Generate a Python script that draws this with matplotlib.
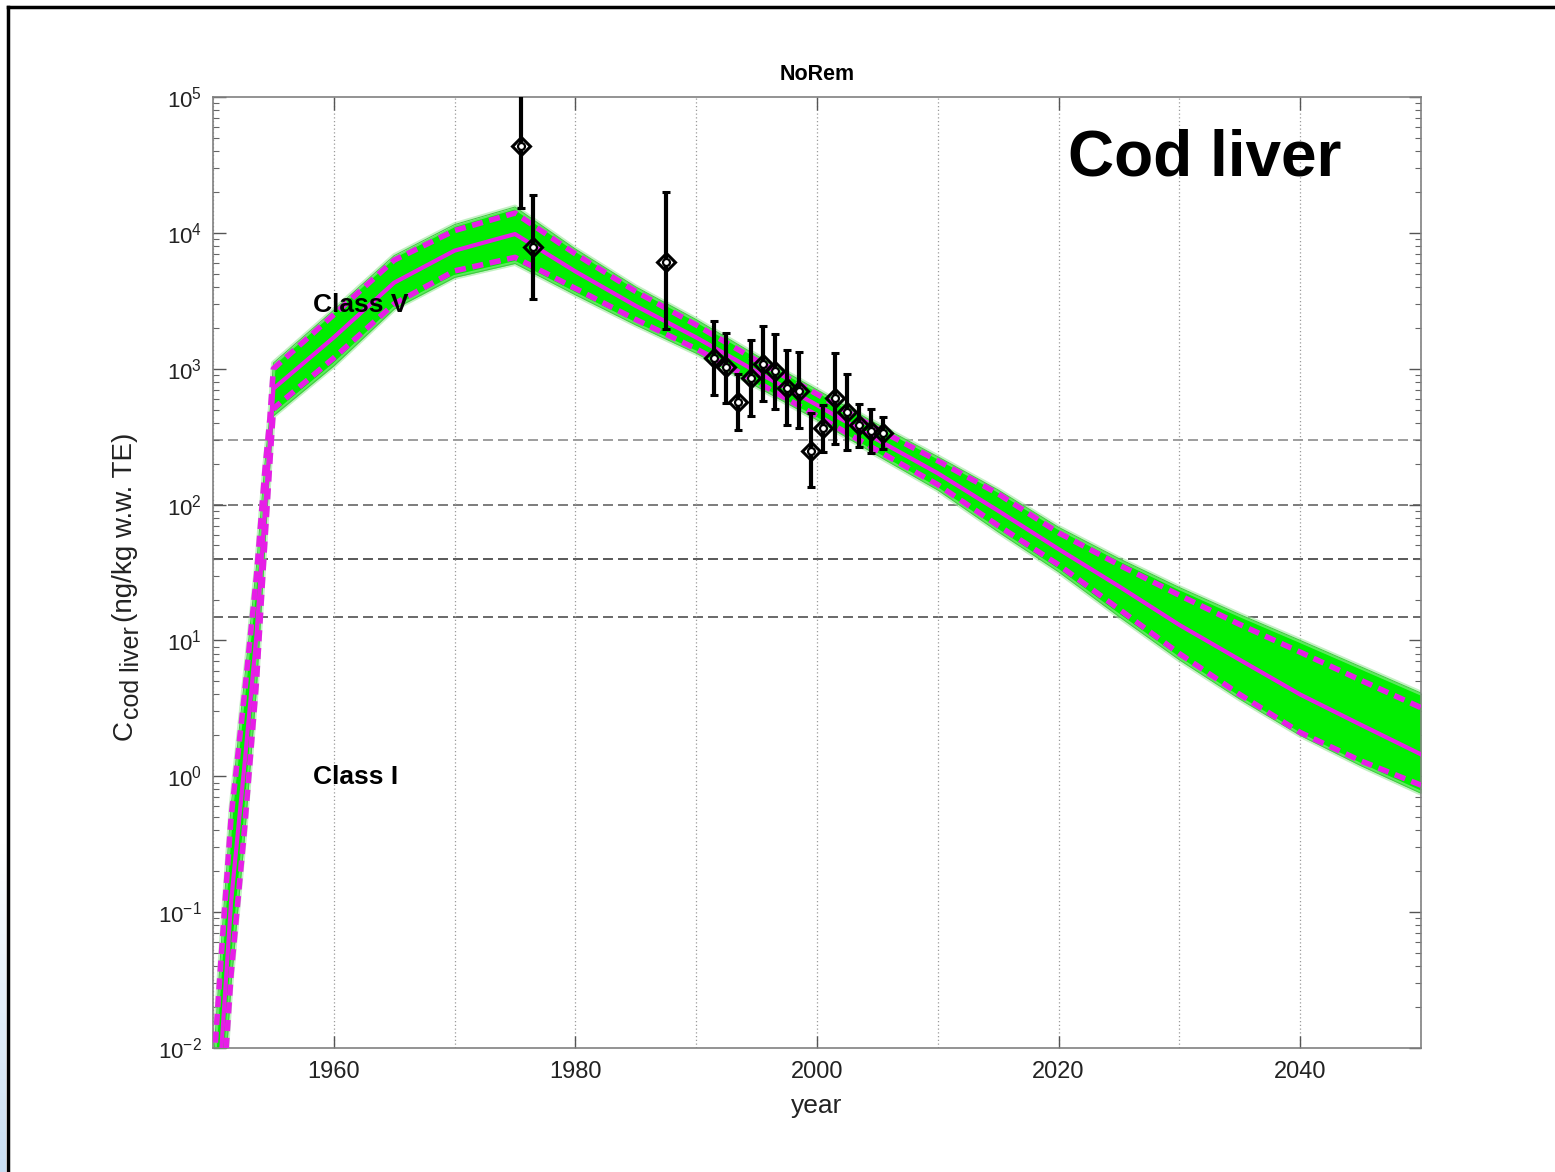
import numpy as np
import matplotlib
matplotlib.use("Agg")
from matplotlib import pyplot as plt
from matplotlib.lines import Line2D
from matplotlib.colors import LinearSegmentedColormap
from matplotlib.ticker import LogLocator, FixedLocator, NullFormatter

plt.rcParams['font.family'] = ['Liberation Sans', 'DejaVu Sans']
plt.rcParams['mathtext.fontset'] = 'custom'
plt.rcParams['mathtext.rm'] = 'Liberation Sans'
plt.rcParams['mathtext.it'] = 'Liberation Sans:italic'
plt.rcParams['mathtext.bf'] = 'Liberation Sans:bold'

W, H = 1555, 1172

# model run: years and percentile curves (ng/kg w.w. TE)
years = [1950, 1950.7, 1951.5, 1952.6, 1953.6, 1954.3, 1954.7, 1955,
         1960, 1965, 1970, 1975, 1980, 1985, 1990, 1995, 2000, 2005,
         2010, 2015, 2020, 2025, 2030, 2035, 2040, 2045, 2050]
median = [0.001, 0.01, 0.12, 1.2, 11, 90, 280, 713,
          1700, 4300, 7400, 9800, 5200, 2900, 1700, 950, 540, 300,
          170, 90, 47, 25, 13, 7.2, 4.0, 2.4, 1.45]
pct_hi = [0.006, 0.05, 0.5, 4, 30, 180, 420, 1000,
          2500, 6300, 10400, 14000, 7000, 3700, 2100, 1150, 650, 360,
          210, 120, 62, 36, 21.5, 13.1, 8.2, 5.1, 3.2]
pct_lo = [0.0003, 0.003, 0.035, 0.4, 5, 55, 200, 508,
          1200, 3000, 5250, 6600, 3900, 2300, 1400, 800, 450, 250,
          140, 70, 36, 17, 8.0, 4.0, 2.1, 1.3, 0.86]
env_hi = [0.007, 0.06, 0.6, 5, 35, 200, 450, 1100,
          2700, 6800, 11500, 15500, 7600, 4000, 2300, 1250, 700, 390,
          225, 128, 68, 40, 24.5, 15.5, 10.0, 6.4, 4.1]
env_lo = [0.00025, 0.0025, 0.03, 0.35, 4.5, 50, 190, 450,
          1050, 2750, 4700, 5950, 3500, 2100, 1300, 740, 420, 230,
          128, 63, 32, 15, 7.2, 3.7, 2.0, 1.2, 0.75]

# measured concentrations with ranges
obs_year = [1975.5, 1976.5, 1987.5, 1991.5, 1992.5, 1993.5, 1994.5, 1995.5,
            1996.5, 1997.5, 1998.5, 1999.5, 2000.5, 2001.5, 2002.5, 2003.5,
            2004.5, 2005.5]
obs_val = [43600, 7870, 6100, 1195, 1037, 567, 861, 1080,
           964, 718, 690, 250, 365, 608, 479, 385, 349, 335]
obs_lo = [15200, 3270, 1960, 641, 563, 355, 450, 574,
          504, 385, 365, 134, 245, 280, 252, 267, 241, 255]
obs_hi = [130000, 19000, 20000, 2260, 1834, 916, 1620, 2070,
          1800, 1375, 1317, 475, 542, 1300, 916, 551, 503, 440]

# quality class limits
class_limits = [300, 100, 40, 15]
class_colors = ['#8c8c8c', '#666666', '#3c3c3c', '#505050']

fig = plt.figure(figsize=(W / 100, H / 100), dpi=100)
ax = fig.add_axes([213 / W, 1 - 1048 / H, 1208 / W, 951 / H])

for lim, col in zip(class_limits, class_colors):
    ax.axhline(lim, color=col, lw=1.2, dashes=(6, 3), zorder=1.5)

# ensemble band
ax.fill_between(years, env_lo, env_hi, color='#00ee00', lw=0, zorder=2)
for edge in (env_hi, env_lo):
    ax.plot(years, edge, color='#9be89b', lw=3.5, alpha=0.6, zorder=2.1)
    ax.plot(years, edge, color='#3fc83f', lw=0.7, zorder=2.2)

ax.plot(years, pct_hi, color='#e61ee6', lw=4, dashes=(2, 1.2), zorder=3)
ax.plot(years, pct_lo, color='#e61ee6', lw=4, dashes=(2, 1.2), zorder=3)
ax.plot(years, median, color='#e61ee6', lw=3, zorder=3.1)

yerr = [np.array(obs_val) - np.array(obs_lo), np.array(obs_hi) - np.array(obs_val)]
ax.errorbar(obs_year, obs_val, yerr=yerr, fmt='D', color='black', ms=9,
            mfc='none', mec='black', mew=2.2, elinewidth=3, capsize=3,
            capthick=3, zorder=4)
ax.plot(obs_year, obs_val, 'o', ms=5, mfc='white', mec='black', mew=1.6, zorder=4.1)

ax.set_yscale('log')
ax.set_xlim(1950, 2050)
ax.set_ylim(1e-2, 1e5)

ax.xaxis.set_major_locator(FixedLocator([1960, 1980, 2000, 2020, 2040]))
ax.xaxis.set_minor_locator(FixedLocator(list(range(1950, 2051, 10))))
ax.yaxis.set_minor_locator(LogLocator(base=10, subs=np.arange(2, 10), numticks=20))
ax.yaxis.set_minor_formatter(NullFormatter())
ax.set_yticks([10.0 ** k for k in range(-2, 6)])
ax.set_yticklabels(['$10^{%d}$' % k for k in range(-2, 6)])

ax.grid(True, axis='x', which='both', color='#9a9a9a', lw=0.9, ls=(0, (1, 2)), zorder=0)
ax.tick_params(axis='both', which='major', direction='in', length=9, width=1,
               color='#555555', top=True, right=True, labelcolor='#222222')
ax.tick_params(axis='x', which='major', labelsize=17, pad=9)
ax.tick_params(axis='y', which='major', labelsize=16, pad=8)
ax.tick_params(axis='y', which='minor', direction='in', length=4.5, width=0.8,
               color='#666666', left=True, right=True)
ax.tick_params(axis='x', which='minor', length=0)
for s in ax.spines.values():
    s.set_color('#808080')
    s.set_linewidth(1.2)

ax.set_xlabel('year', fontsize=19, color='#222222', labelpad=8)
ax.set_title('NoRem', fontsize=15.5, fontweight='bold', pad=12)

ax.text(1958.3, 2630, 'Class V', fontsize=19, fontweight='bold', va='baseline', zorder=5)
ax.text(1958.3, 0.88, 'Class I', fontsize=19, fontweight='bold', va='baseline', zorder=5)
fig.text(1068 / W, 1 - 176 / H, 'Cod liver', fontsize=46, fontweight='bold',
         va='baseline', ha='left')

# y label built from pieces so the subscript keeps full size
renderer = fig.canvas.get_renderer()
lab_kw = dict(rotation=90, rotation_mode='anchor', ha='left', va='baseline',
              fontsize=20, color='#222222')
base_x = 131.5
y_px = 740
t = fig.text(base_x / W, 1 - y_px / H, 'C', **lab_kw)
y_px -= t.get_window_extent(renderer).height + 1
t = fig.text((base_x + 7.5) / W, 1 - y_px / H, 'cod liver', fontsize=18,
             **{k: v for k, v in lab_kw.items() if k != 'fontsize'})
y_px -= t.get_window_extent(renderer).height + 4
fig.text(base_x / W, 1 - y_px / H, '(ng/kg w.w. TE)', **lab_kw)

# slide frame and side strip
fig.add_artist(Line2D([8 / W, 8 / W], [0, 1 - 7 / H], color='black', lw=2.5,
                      transform=fig.transFigure))
fig.add_artist(Line2D([8 / W, 1], [1 - 7 / H, 1 - 7 / H], color='black', lw=2.5,
                      transform=fig.transFigure))
strip = fig.add_axes([0, 0, 6 / W, 330 / H])
grad = np.linspace(0, 1, 100).reshape(-1, 1)
strip.imshow(grad, aspect='auto', origin='lower',
             cmap=LinearSegmentedColormap.from_list('side', ['#c9def2', '#ffffff']))
strip.axis('off')

fig.savefig('out.png', dpi=100)
